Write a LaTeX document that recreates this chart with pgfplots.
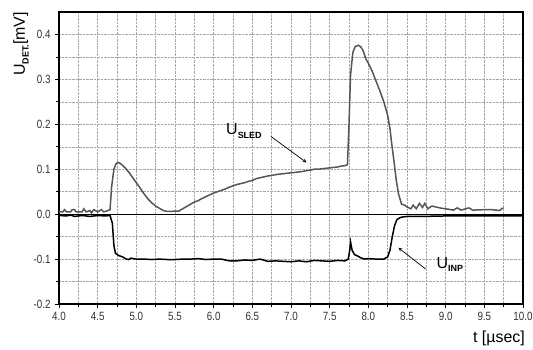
\documentclass[border=0pt]{standalone}
\usepackage{pgfplots}
\pgfplotsset{compat=1.18}
\usepackage{fontspec}
\setmainfont{Liberation Sans}
\newfontfamily\tickfont[FakeStretch=0.82]{Liberation Sans}
\definecolor{sledgray}{HTML}{555555}
\begin{document}
\begin{tikzpicture}
\path[use as bounding box] (-59bp,-46bp) rectangle (474bp,304bp);
\begin{axis}[
  at={(0,0)}, anchor=south west,
  scale only axis, width=464bp, height=292bp,
  xmin=4, xmax=10, ymin=-0.2, ymax=0.45,
  xtick={4,4.5,...,10}, minor x tick num=1,
  ytick={-0.2,-0.1,0,0.1,0.2,0.3,0.4}, minor y tick num=1,
  tick pos=left, tick align=outside,
  major tick length=4bp, minor tick length=3bp,
  grid=both,
  major grid style={densely dotted, gray!70, line width=0.5pt},
  minor grid style={densely dotted, gray!70, line width=0.5pt},
  axis line style={line width=1.1pt},
  every tick/.style={black, line width=0.8pt},
  xticklabel style={/pgf/number format/fixed, /pgf/number format/fixed zerofill, /pgf/number format/precision=1, /pgf/number format/assume math mode=true, font=\tickfont\fontsize{12}{13}\selectfont, text=black!80, yshift=-1bp},
  yticklabel style={/pgf/number format/fixed, /pgf/number format/fixed zerofill, /pgf/number format/precision=1, /pgf/number format/assume math mode=true, font=\tickfont\fontsize{12}{13}\selectfont, text=black!80, xshift=-1bp},
]
\draw[black, line width=0.8pt] (axis cs:4,0) -- (axis cs:10,0);
\addplot[sledgray, line width=1.5pt] coordinates {
(4.00,0.005)(4.05,0.005)(4.07,0.01)(4.10,0.005)(4.15,0.005)(4.17,0.01)(4.20,0.01)(4.22,0.005)(4.30,0.005)(4.32,0.012)(4.35,0.005)(4.40,0.008)(4.42,0.003)(4.45,0.01)(4.50,0.005)(4.55,0.01)(4.58,0.005)(4.63,0.008)(4.66,0.01)(4.68,0.06)(4.71,0.1)(4.74,0.113)(4.77,0.115)(4.80,0.112)(4.85,0.104)(4.90,0.094)(4.95,0.082)(5.00,0.07)(5.05,0.058)(5.10,0.045)(5.15,0.034)(5.20,0.025)(5.25,0.018)(5.30,0.013)(5.35,0.008)(5.40,0.006)(5.45,0.006)(5.50,0.007)(5.55,0.007)(5.60,0.012)(5.65,0.017)(5.70,0.022)(5.75,0.027)(5.80,0.03)(5.85,0.035)(5.90,0.039)(5.95,0.043)(6.00,0.047)(6.05,0.05)(6.10,0.053)(6.15,0.056)(6.20,0.06)(6.25,0.063)(6.30,0.066)(6.35,0.068)(6.40,0.07)(6.45,0.073)(6.50,0.075)(6.55,0.079)(6.60,0.081)(6.65,0.083)(6.70,0.085)(6.75,0.086)(6.80,0.088)(6.85,0.089)(6.90,0.09)(6.95,0.091)(7.00,0.092)(7.05,0.093)(7.10,0.094)(7.15,0.095)(7.20,0.097)(7.25,0.098)(7.30,0.1)(7.35,0.1)(7.40,0.101)(7.45,0.102)(7.50,0.103)(7.55,0.104)(7.60,0.105)(7.65,0.107)(7.70,0.108)(7.73,0.11)(7.75,0.2)(7.77,0.31)(7.80,0.36)(7.83,0.373)(7.87,0.376)(7.90,0.373)(7.93,0.365)(7.97,0.345)(8.00,0.336)(8.05,0.318)(8.10,0.296)(8.15,0.274)(8.20,0.25)(8.25,0.22)(8.28,0.19)(8.30,0.16)(8.33,0.12)(8.36,0.077)(8.39,0.045)(8.43,0.022)(8.47,0.02)(8.50,0.016)(8.55,0.012)(8.58,0.02)(8.62,0.012)(8.66,0.024)(8.70,0.015)(8.73,0.024)(8.77,0.012)(8.82,0.018)(8.90,0.015)(8.95,0.013)(9.00,0.012)(9.10,0.009)(9.15,0.014)(9.20,0.009)(9.30,0.014)(9.35,0.009)(9.50,0.01)(9.60,0.01)(9.70,0.008)(9.73,0.013)(9.75,0.013)
};
\addplot[black, line width=1.5pt] coordinates {
(4.0,-0.003)(4.1,-0.004)(4.15,-0.002)(4.2,-0.005)(4.3,-0.003)(4.4,-0.005)(4.5,-0.003)(4.6,-0.004)(4.66,-0.003)(4.69,-0.02)(4.71,-0.07)(4.73,-0.087)(4.77,-0.092)(4.82,-0.095)(4.87,-0.1)(4.9,-0.101)(4.93,-0.098)(5.0,-0.1)(5.1,-0.1)(5.2,-0.101)(5.3,-0.1)(5.4,-0.101)(5.5,-0.101)(5.6,-0.1)(5.7,-0.1)(5.8,-0.099)(5.9,-0.101)(6.0,-0.1)(6.1,-0.1)(6.2,-0.104)(6.3,-0.104)(6.4,-0.102)(6.5,-0.103)(6.6,-0.1)(6.7,-0.105)(6.8,-0.104)(6.9,-0.105)(7.0,-0.106)(7.1,-0.104)(7.2,-0.106)(7.3,-0.103)(7.4,-0.104)(7.5,-0.105)(7.6,-0.103)(7.7,-0.104)(7.74,-0.1)(7.76,-0.08)(7.77,-0.062)(7.79,-0.08)(7.82,-0.09)(7.86,-0.093)(7.9,-0.097)(7.95,-0.1)(8.0,-0.099)(8.1,-0.1)(8.2,-0.1)(8.25,-0.095)(8.28,-0.08)(8.31,-0.05)(8.34,-0.025)(8.37,-0.012)(8.42,-0.007)(8.5,-0.005)(8.7,-0.005)(9.0,-0.004)(9.5,-0.004)(10.0,-0.004)
};
\node[anchor=base west, inner sep=0pt, font=\fontsize{16}{17}\selectfont] at (axis cs:6.16,0.177) {U\raisebox{-0.45ex}{\fontsize{9}{10}\selectfont\bfseries SLED}};
\draw[-stealth, line width=0.7pt] (axis cs:6.74,0.173) -- (axis cs:7.2,0.115);
\node[anchor=base west, inner sep=0pt, font=\fontsize{16}{17}\selectfont] at (axis cs:8.88,-0.12) {U\raisebox{-0.45ex}{\fontsize{9}{10}\selectfont\bfseries INP}};
\draw[-stealth, line width=0.7pt] (axis cs:8.74,-0.122) -- (axis cs:8.39,-0.075);
\end{axis}
\node[rotate=90, anchor=east, inner sep=0pt, font=\fontsize{16}{17}\selectfont] at (-38bp,292bp) {U\raisebox{-0.45ex}{\fontsize{9}{10}\selectfont\bfseries DET.}[mV]};
\node[anchor=east, inner sep=0pt, font=\fontsize{16}{17}\selectfont] at (466bp,-34bp) {t [µsec]};
\end{tikzpicture}
\end{document}
